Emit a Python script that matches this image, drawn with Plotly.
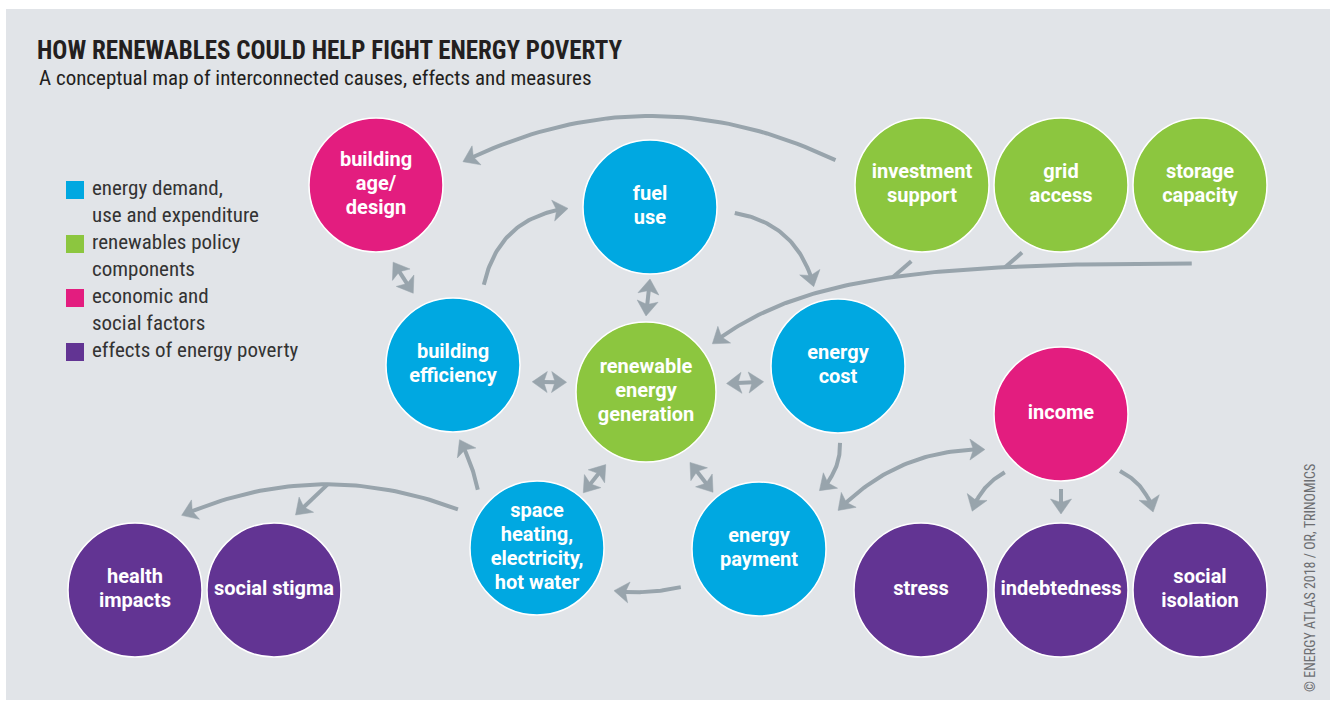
import numpy as np
import plotly.graph_objects as go

W, H = 1330, 704
BG = "#e1e4e8"
ARROW = "#98a4ac"
TEXT = "#231f20"
FONT = "Liberation Sans Narrow, Roboto Condensed, DejaVu Sans Condensed, Roboto, sans-serif"
NODE_FONT = "Roboto, Liberation Sans, sans-serif"

# ---------------- categories ----------------
cat_ids = ["demand", "policy", "social", "effect"]
cat_colors = ["#00a8e1", "#8cc63f", "#e31d7f", "#623493"]
cat_legend = [["energy demand,", "use and expenditure"],
              ["renewables policy", "components"],
              ["economic and", "social factors"],
              ["effects of energy poverty"]]

# ---------------- nodes ----------------
node_ids = ["age", "fuel", "invest", "grid", "storage", "eff", "ren", "cost",
            "income", "heat", "pay", "health", "stigma", "stress", "debt", "isol"]
node_labels = ["building<br>age/<br>design", "fuel<br>use", "investment<br>support",
               "grid<br>access", "storage<br>capacity", "building<br>efficiency",
               "renewable<br>energy<br>generation", "energy<br>cost", "income",
               "space<br>heating,<br>electricity,<br>hot water", "energy<br>payment",
               "health<br>impacts", "social stigma", "stress", "indebtedness",
               "social<br>isolation"]
node_cat = ["social", "demand", "policy", "policy", "policy", "demand", "policy", "demand",
            "social", "demand", "demand", "effect", "effect", "effect", "effect", "effect"]
node_x = [376, 650, 922, 1061, 1200, 453, 646, 838, 1061, 537, 759, 135, 274, 921, 1061, 1200]
node_y = [185, 207, 185, 185, 185, 365, 392, 366, 414, 548, 549, 590, 590, 590, 590, 590]
node_r = [67, 67, 67, 67, 67, 67, 70, 67, 67, 67, 67, 67, 67, 67, 67, 67]

# ---------------- connections ----------------
# source node, angle on source (deg), gap, target node, angle on target, gap, bend, heads
edge_src = ["invest", "eff", "fuel", "fuel", "age", "eff", "ren", "ren", "ren",
            "cost", "pay", "income", "income", "income", "pay", "heat", "heat"]
edge_src_ang = [196, -69, 4, 90, 77.5, 12, -6, 119, 58, 88.5, -26, 134, 90, 44, 154, -135.5, -154]
edge_src_gap = [23, 19, 18, 5, 12, 14, 11, 13, 13, 10, 21, 14, 8, 15, 20, 16, 21]
edge_dst = ["age", "fuel", "cost", "ren", "eff", "ren", "cost", "heat", "pay",
            "pay", "income", "stress", "debt", "isol", "heat", "eff", "health"]
edge_dst_ang = [-15, 179, -107, -90, -119, 187, 168, -50, -129, -44, 155, -57, -90, -121, 29, 85, -58]
edge_dst_gap = [23, 15, 16, 6, 15, 10, 9, 5, 6, 17, 17, 27, 9, 24, 21, 8, 21]
edge_bend = [90, -40, -35, 0, 0, 0, 0, 0, 0, -12, -34, 10, 0, -12, -6, 4, 56]
edge_heads = ["end", "end", "end", "both", "both", "both", "both", "both", "both",
              "end", "both", "end", "end", "end", "end", "end", "end"]

# branch from a connection (index, position along it) to a node
branch_edge = [16]
branch_t = [0.475]
branch_dst = ["stigma"]
branch_dst_ang = [-74]
branch_dst_gap = [11]

# policy feed line: storage -> renewable generation (cubic, handles as angle/length)
feed_src, feed_src_ang, feed_src_gap = "storage", 96, 12
feed_dst, feed_dst_ang, feed_dst_gap = "ren", -36, 12
feed_h0 = (180, 260)
feed_h1 = (-38, 112)
# ticks joining the feed line
tick_src = ["invest", "grid"]
tick_ang = [98, 120]
tick_gap = [10, 11]
tick_dir = [139, 139]

idx = {n: i for i, n in enumerate(node_ids)}


def on_circle(node, ang, gap):
    i = idx[node]
    a = np.radians(ang)
    rr = node_r[i] + gap
    return np.array([node_x[i] + rr * np.cos(a), node_y[i] + rr * np.sin(a)])


def quad(p0, p2, bend, n=50):
    d = p2 - p0
    L = np.hypot(*d)
    nrm = np.array([-d[1], d[0]]) / L
    c = (p0 + p2) / 2 + bend * nrm
    t = np.linspace(0, 1, n)[:, None]
    return (1 - t) ** 2 * p0 + 2 * t * (1 - t) * c + t ** 2 * p2


def cubic(p0, c1, c2, p3, n=120):
    t = np.linspace(0, 1, n)[:, None]
    return ((1 - t) ** 3 * p0 + 3 * (1 - t) ** 2 * t * c1 +
            3 * (1 - t) * t ** 2 * c2 + t ** 3 * p3)


HL, HW, NOTCH = 15.0, 10.5, 3.5
shaft_x, shaft_y, head_x, head_y = [], [], [], []


def add_head(tip, d):
    d = d / np.hypot(*d)
    n = np.array([-d[1], d[0]])
    base = tip - HL * d
    pts = [tip, base + HW * n, tip - (HL - NOTCH) * d, base - HW * n, tip]
    head_x.extend([p[0] for p in pts] + [None])
    head_y.extend([p[1] for p in pts] + [None])


def add_path(pts, head_end=True, head_start=False):
    pts = np.array(pts)
    cut = HL - NOTCH - 1
    if head_end:
        tip = pts[-1]
        d = pts[-1] - pts[-3]
        add_head(tip, d)
        keep = np.hypot(*(pts - tip).T) > cut
        dn = d / np.hypot(*d)
        pts = np.vstack([pts[keep], tip - cut * dn])
    if head_start:
        tip = pts[0]
        d = pts[0] - pts[2]
        add_head(tip, d)
        keep = np.hypot(*(pts - tip).T) > cut
        dn = d / np.hypot(*d)
        pts = np.vstack([tip - cut * dn, pts[keep]])
    shaft_x.extend(list(pts[:, 0]) + [None])
    shaft_y.extend(list(pts[:, 1]) + [None])


curves = []
for k in range(len(edge_src)):
    p0 = on_circle(edge_src[k], edge_src_ang[k], edge_src_gap[k])
    p2 = on_circle(edge_dst[k], edge_dst_ang[k], edge_dst_gap[k])
    pts = quad(p0, p2, edge_bend[k])
    curves.append(pts)
    add_path(pts, True, edge_heads[k] == "both")

for k in range(len(branch_edge)):
    c = curves[branch_edge[k]]
    j = int(round(branch_t[k] * (len(c) - 1)))
    p0 = c[j]
    p2 = on_circle(branch_dst[k], branch_dst_ang[k], branch_dst_gap[k])
    add_path(np.linspace(p0, p2, 10), True, False)


def handle(p, h):
    a = np.radians(h[0])
    return p + h[1] * np.array([np.cos(a), np.sin(a)])


f0 = on_circle(feed_src, feed_src_ang, feed_src_gap)
f3 = on_circle(feed_dst, feed_dst_ang, feed_dst_gap)
feed = cubic(f0, handle(f0, feed_h0), handle(f3, feed_h1), f3)
add_path(feed, True, False)
fx_sorted = feed[::-1, 0]
fy_sorted = feed[::-1, 1]

for k in range(len(tick_src)):
    p0 = on_circle(tick_src[k], tick_ang[k], tick_gap[k])
    a = np.radians(tick_dir[k])
    u = np.array([np.cos(a), np.sin(a)])
    p1 = p0
    for s in np.arange(0, 80, 0.5):
        q = p0 + s * u
        if q[1] >= np.interp(q[0], fx_sorted, fy_sorted):
            p1 = q
            break
    shaft_x.extend([p0[0], p1[0], None])
    shaft_y.extend([p0[1], p1[1], None])

fig = go.Figure()

fig.add_trace(go.Scatter(x=shaft_x, y=shaft_y, mode="lines",
                         line=dict(color=ARROW, width=4), hoverinfo="skip", showlegend=False))
fig.add_trace(go.Scatter(x=head_x, y=head_y, mode="lines", fill="toself", fillcolor=ARROW,
                         line=dict(color=ARROW, width=0.5), hoverinfo="skip", showlegend=False))

# circles per category
for cid, col in zip(cat_ids, cat_colors):
    sel = [i for i, c in enumerate(node_cat) if c == cid]
    fig.add_trace(go.Scatter(
        x=[node_x[i] for i in sel], y=[node_y[i] for i in sel], mode="markers",
        marker=dict(size=[2 * node_r[i] for i in sel], color=col, opacity=1,
                    line=dict(color="white", width=1.5)),
        hoverinfo="skip", showlegend=False))

# node labels, one text line per row
LINE_H = 24
lab_x, lab_y, lab_t = [], [], []
for i, lab in enumerate(node_labels):
    parts = lab.split("<br>")
    for j, p in enumerate(parts):
        lab_x.append(node_x[i])
        lab_y.append(node_y[i] + (j - (len(parts) - 1) / 2) * LINE_H)
        lab_t.append(p)
fig.add_trace(go.Scatter(x=lab_x, y=lab_y, mode="text", text=lab_t, textposition="middle center",
                         textfont=dict(family=NODE_FONT, size=20, color="white", weight="bold"),
                         hoverinfo="skip", showlegend=False))

# legend (custom)
LEG_X, LEG_Y0, LEG_DY = 75, 190, 27
leg_sq_y, leg_txt_y, leg_txt = [], [], []
row = 0
for lines in cat_legend:
    leg_sq_y.append(LEG_Y0 + row * LEG_DY)
    for ln in lines:
        leg_txt_y.append(LEG_Y0 + row * LEG_DY)
        leg_txt.append(ln)
        row += 1
fig.add_trace(go.Scatter(x=[LEG_X] * len(leg_sq_y), y=leg_sq_y, mode="markers",
                         marker=dict(symbol="square", size=18, color=cat_colors, opacity=1,
                                     line=dict(width=0)),
                         hoverinfo="skip", showlegend=False))
fig.add_trace(go.Scatter(x=[LEG_X + 17] * len(leg_txt), y=leg_txt_y, mode="text",
                         text=leg_txt, textposition="middle right",
                         textfont=dict(family=FONT, size=21, color="#333333"),
                         hoverinfo="skip", showlegend=False))

fig.add_annotation(x=37, y=78, xref="x", yref="y", xanchor="left", yanchor="middle",
                   text="A conceptual map of interconnected causes, effects and measures",
                   showarrow=False, font=dict(family=FONT, size=21, color=TEXT))
fig.add_annotation(x=1310, y=578, xref="x", yref="y", xanchor="center", yanchor="middle",
                   text="© ENERGY ATLAS 2018 / OR, TRINOMICS", textangle=-90,
                   showarrow=False, font=dict(family=FONT, size=14, color="#6d6e71"))

fig.update_layout(
    width=W, height=H, margin=dict(l=0, r=0, t=0, b=0),
    paper_bgcolor="white", plot_bgcolor="rgba(0,0,0,0)",
    title=dict(text="HOW RENEWABLES COULD HELP FIGHT ENERGY POVERTY",
               x=37 / W, y=1 - 50 / H, xanchor="left", yanchor="middle", xref="paper", yref="paper",
               font=dict(family=FONT, size=25, color=TEXT, weight="bold")),
    xaxis=dict(range=[0, W], visible=False, fixedrange=True),
    yaxis=dict(range=[H, 0], visible=False, fixedrange=True),
    shapes=[dict(type="rect", xref="x", yref="y", x0=6, y0=9, x1=W, y1=700,
                 fillcolor=BG, line=dict(width=0), layer="below")],
    showlegend=False,
)

fig.write_html("out.html", config={"displayModeBar": False},
               post_script="document.body.style.margin='0';document.body.style.overflow='hidden';")
